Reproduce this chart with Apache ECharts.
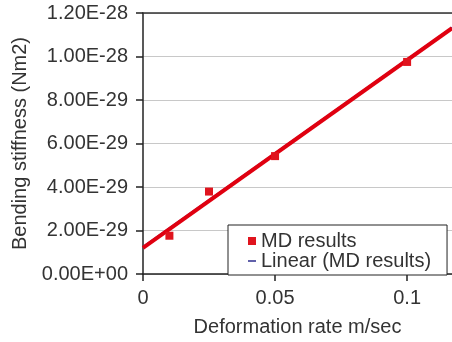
<!DOCTYPE html>
<html lang="en">
<head>
    <meta charset="UTF-8">
    <title>Bending stiffness vs deformation rate</title>
    <script src="https://cdn.jsdelivr.net/npm/echarts@6/dist/echarts.min.js"></script>
    <style>
        html, body { margin: 0; padding: 0; background: #fff; }
    </style>
</head>
<body>
    <div id="main" style="width: 452px;height:342px;"></div>
    <script type="text/javascript">
        // y values are stored in units of 1e-29 Nm2
        var Y_UNIT = 1e-29;

        // MD results
        var rateX = [0.01, 0.025, 0.05, 0.1];
        var stiffY = [1.76, 3.79, 5.42, 9.75];

        // trend lines (end points)
        var redLine = [[0, 1.2], [0.117, 11.3]];
        var linearLine = [[0, 1.26], [0.117, 11.34]];

        var xTicks = [0, 0.05, 0.1];
        var yTicks = [0, 2, 4, 6, 8, 10, 12];

        var font = "'Liberation Sans', Arial, sans-serif";
        var textColor = '#333';

        // Excel style: 1.20E-28, 0.00E+00
        function sci(v) {
            var s = v.toExponential(2).toUpperCase();
            var parts = s.split('E');
            var sign = parts[1].charAt(0);
            var exp = parts[1].slice(1);
            if (exp.length < 2) exp = '0' + exp;
            return parts[0] + 'E' + sign + exp;
        }

        var myChart = echarts.init(document.getElementById('main'));

        var mdData = rateX.map(function (x, i) { return [x, stiffY[i]]; });

        var option = {
            animation: false,
            backgroundColor: '#fff',
            textStyle: { fontFamily: font, color: textColor },
            grid: { left: 143, right: 0, top: 13, bottom: 63 },
            legend: {
                left: 228,
                top: 225,
                orient: 'vertical',
                backgroundColor: '#fff',
                borderColor: '#222',
                borderWidth: 1,
                borderRadius: 0,
                padding: [6, 16, 4, 20],
                itemGap: 0,
                itemWidth: 8,
                itemHeight: 8,
                textStyle: { fontFamily: font, fontSize: 20, color: textColor, lineHeight: 18 },
                data: [
                    { name: 'MD results', icon: 'rect', itemStyle: { color: '#e0141e', opacity: 1 } },
                    { name: 'Linear (MD results)', icon: 'path://M0,0H0.01V0.01H0Z M0,4H10V6H0Z M9.99,9.99H10V10H9.99Z',
                      itemStyle: { color: '#2e2e8e', opacity: 1 } }
                ]
            },
            xAxis: [{
                type: 'value',
                min: xTicks[0],
                max: 0.117,
                interval: 0.05,
                name: 'Deformation rate m/sec',
                nameLocation: 'middle',
                nameGap: 43,
                nameTextStyle: { fontFamily: font, fontSize: 20, color: textColor },
                axisLine: { onZero: false, lineStyle: { color: '#222', width: 1.5 } },
                axisTick: { show: true, length: 7, lineStyle: { color: '#222', width: 1.5 } },
                axisLabel: {
                    margin: 14,
                    fontSize: 20,
                    color: textColor,
                    fontFamily: font,
                    showMaxLabel: false,
                    formatter: function (v) {
                        var r = Math.round(v * 100) / 100;
                        return xTicks.indexOf(r) >= 0 ? String(r) : '';
                    }
                },
                splitLine: { show: false }
            }, {
                type: 'value',
                position: 'top',
                min: xTicks[0],
                max: 0.117,
                axisLine: { show: true, onZero: false, lineStyle: { color: '#333', width: 1.5 } },
                axisTick: { show: false },
                axisLabel: { show: false },
                splitLine: { show: false }
            }],
            yAxis: {
                type: 'value',
                min: yTicks[0],
                max: yTicks[yTicks.length - 1],
                interval: 2,
                name: 'Bending stiffness (Nm2)',
                nameLocation: 'middle',
                nameGap: 113,
                nameTextStyle: { fontFamily: font, fontSize: 20, color: textColor },
                axisLine: { show: true, onZero: false, lineStyle: { color: '#222', width: 1.5 } },
                axisTick: { show: true, length: 7, lineStyle: { color: '#222', width: 1.5 } },
                axisLabel: {
                    margin: 15,
                    fontSize: 20,
                    color: textColor,
                    fontFamily: font,
                    formatter: function (v) {
                        return sci(v * Y_UNIT);
                    }
                },
                splitLine: { show: true, lineStyle: { color: '#c8c8c8', width: 1 } }
            },
            series: [{
                name: 'Linear (MD results)',
                type: 'line',
                data: linearLine,
                symbol: 'none',
                lineStyle: { color: '#3a3a9a', width: 1.5 },
                itemStyle: { color: '#3a3a9a' },
                z: 2
            }, {
                name: 'trend',
                type: 'line',
                data: redLine,
                symbol: 'none',
                lineStyle: { color: '#e00010', width: 4 },
                itemStyle: { color: '#e00010' },
                z: 3
            }, {
                name: 'MD results',
                type: 'scatter',
                data: mdData,
                symbol: 'rect',
                symbolSize: 8,
                itemStyle: { color: '#e0141e', opacity: 1 },
                z: 4
            }]
        };

        myChart.setOption(option);
    </script>
</body>
</html>
